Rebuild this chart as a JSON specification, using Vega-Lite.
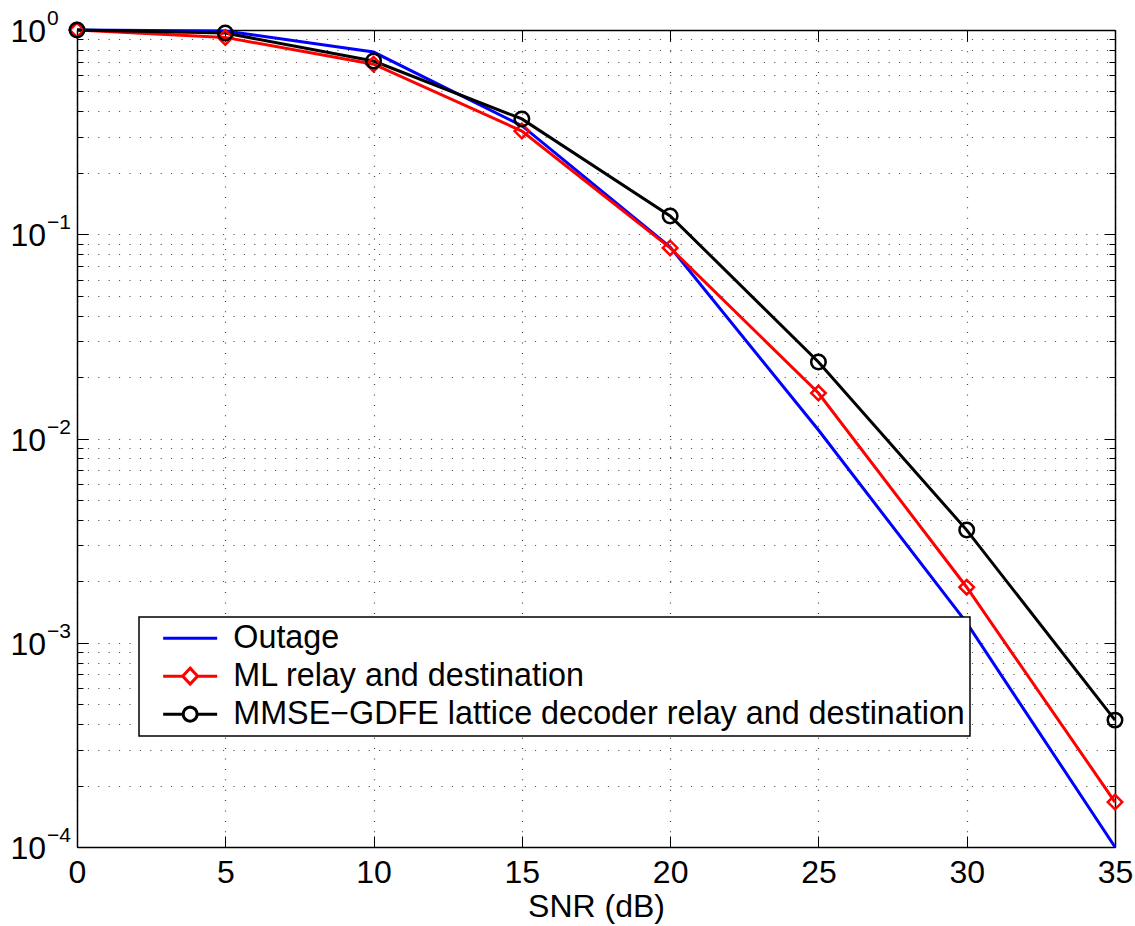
{
  "$schema": "https://vega.github.io/schema/vega-lite/v6.json",
  "width": 1038,
  "height": 817,
  "autosize": {"type": "none"},
  "padding": {"left": 77, "top": 30, "right": 20, "bottom": 79},
  "background": "white",
  "config": {
    "view": {"stroke": null},
    "font": "Liberation Sans",
    "axis": {"labelFont": "Liberation Sans", "titleFont": "Liberation Sans", "domainColor": "black", "tickColor": "black", "labelColor": "black", "titleColor": "black"}
  },
  "datasets": {
    "curves": [
      {"snr": 0, "ber": 1.0, "series": "Outage"},
      {"snr": 5, "ber": 0.99, "series": "Outage"},
      {"snr": 10, "ber": 0.78, "series": "Outage"},
      {"snr": 15, "ber": 0.34, "series": "Outage"},
      {"snr": 20, "ber": 0.0866, "series": "Outage"},
      {"snr": 25, "ber": 0.011, "series": "Outage"},
      {"snr": 30, "ber": 0.00125, "series": "Outage"},
      {"snr": 35, "ber": 0.0001, "series": "Outage"},
      {"snr": 0, "ber": 1.0, "series": "ML relay and destination"},
      {"snr": 5, "ber": 0.92, "series": "ML relay and destination"},
      {"snr": 10, "ber": 0.68, "series": "ML relay and destination"},
      {"snr": 15, "ber": 0.32, "series": "ML relay and destination"},
      {"snr": 20, "ber": 0.0857, "series": "ML relay and destination"},
      {"snr": 25, "ber": 0.0167, "series": "ML relay and destination"},
      {"snr": 30, "ber": 0.00187, "series": "ML relay and destination"},
      {"snr": 35, "ber": 0.000166, "series": "ML relay and destination"},
      {"snr": 0, "ber": 1.0, "series": "MMSE−GDFE lattice decoder relay and destination"},
      {"snr": 5, "ber": 0.966, "series": "MMSE−GDFE lattice decoder relay and destination"},
      {"snr": 10, "ber": 0.705, "series": "MMSE−GDFE lattice decoder relay and destination"},
      {"snr": 15, "ber": 0.367, "series": "MMSE−GDFE lattice decoder relay and destination"},
      {"snr": 20, "ber": 0.123, "series": "MMSE−GDFE lattice decoder relay and destination"},
      {"snr": 25, "ber": 0.0237, "series": "MMSE−GDFE lattice decoder relay and destination"},
      {"snr": 30, "ber": 0.00356, "series": "MMSE−GDFE lattice decoder relay and destination"},
      {"snr": 35, "ber": 0.000418, "series": "MMSE−GDFE lattice decoder relay and destination"}
    ],
    "decades": [
      {"v": 1, "e": "0"},
      {"v": 0.1, "e": "−1"},
      {"v": 0.01, "e": "−2"},
      {"v": 0.001, "e": "−3"},
      {"v": 0.0001, "e": "−4"}
    ]
  },
  "resolve": {"axis": {"x": "independent", "y": "independent"}},
  "layer": [
    {
      "data": {"name": "curves"},
      "mark": {"type": "line", "strokeWidth": 3, "clip": false},
      "encoding": {
        "x": {
          "field": "snr", "type": "quantitative",
          "scale": {"domain": [0, 35], "nice": false, "zero": false},
          "axis": {
            "orient": "bottom", "values": [0, 5, 10, 15, 20, 25, 30, 35],
            "title": "SNR (dB)", "titleFontSize": 32, "titleFontWeight": "normal", "titlePadding": 3,
            "labelFontSize": 32, "labelPadding": 21, "tickSize": -11, "tickWidth": 1,
            "domainWidth": 1.5, "labelFlush": false,
            "grid": true, "gridDash": [1, 9.4], "gridColor": "black", "gridOpacity": 0.75, "gridWidth": 1.2
          }
        },
        "y": {
          "field": "ber", "type": "quantitative",
          "scale": {"type": "log", "domain": [0.0001, 1], "nice": false},
          "axis": {
            "orient": "left", "title": null, "labels": false,
            "values": [0.0001, 0.0002, 0.0003, 0.0004, 0.0005, 0.0006, 0.0007, 0.0008, 0.0009, 0.001, 0.002, 0.003, 0.004, 0.005, 0.006, 0.007, 0.008, 0.009, 0.01, 0.02, 0.03, 0.04, 0.05, 0.06, 0.07, 0.08, 0.09, 0.1, 0.2, 0.3, 0.4, 0.5, 0.6, 0.7, 0.8, 0.9, 1],
            "tickSize": {"condition": {"test": "abs(log(datum.value)/log(10) - round(log(datum.value)/log(10))) < 0.001", "value": -11}, "value": -6},
            "tickWidth": 1, "domainWidth": 1.5,
            "grid": true, "gridDash": [1, 9.4], "gridColor": "black", "gridOpacity": 0.75, "gridWidth": 1.2
          }
        },
        "color": {
          "field": "series", "type": "nominal",
          "scale": {"domain": ["Outage", "ML relay and destination", "MMSE−GDFE lattice decoder relay and destination"], "range": ["#0000ff", "#ff0000", "#000000"]},
          "legend": {
            "orient": "none", "legendX": 62, "legendY": 587,
            "title": null, "labelFontSize": 32.3, "labelFont": "Liberation Sans", "labelColor": "black",
            "symbolSize": 400, "symbolStrokeWidth": 3, "symbolOffset": 30, "labelOffset": 27,
            "rowPadding": 5, "padding": 5, "strokeColor": "black", "fillColor": "white",
            "labelLimit": 1000,
            "encode": {
              "legend": {"update": {"strokeWidth": {"value": 1.5}}},
              "symbols": {
                "update": {
                  "fill": {"value": "transparent"},
                  "strokeWidth": {"value": 3},
                  "shape": {"signal": "datum.value === 'Outage' ? 'M-2.7,0L2.7,0' : datum.value === 'ML relay and destination' ? 'M-2.7,0L-0.75,0M0.75,0L2.7,0M0,-0.8L0.75,0L0,0.8L-0.75,0Z' : 'M-2.7,0L-0.7,0M0.7,0L2.7,0M0.7,0L0.647,0.268L0.495,0.495L0.268,0.647L0,0.7L-0.268,0.647L-0.495,0.495L-0.647,0.268L-0.7,0L-0.647,-0.268L-0.495,-0.495L-0.268,-0.647L0,-0.7L0.268,-0.647L0.495,-0.495L0.647,-0.268Z'"}
                }
              }
            }
          }
        }
      }
    },
    {
      "data": {"name": "curves"},
      "transform": [{"filter": "datum.series !== 'Outage'"}],
      "mark": {"type": "point", "filled": false, "strokeWidth": 2.5, "opacity": 1, "clip": false},
      "encoding": {
        "x": {
          "field": "snr", "type": "quantitative",
          "axis": {"orient": "top", "values": [0, 5, 10, 15, 20, 25, 30, 35], "labels": false, "title": null, "tickSize": -11, "tickWidth": 1, "domainWidth": 1.5, "grid": false}
        },
        "y": {
          "field": "ber", "type": "quantitative",
          "axis": {
            "orient": "right", "labels": false, "title": null, "grid": false,
            "values": [0.0001, 0.0002, 0.0003, 0.0004, 0.0005, 0.0006, 0.0007, 0.0008, 0.0009, 0.001, 0.002, 0.003, 0.004, 0.005, 0.006, 0.007, 0.008, 0.009, 0.01, 0.02, 0.03, 0.04, 0.05, 0.06, 0.07, 0.08, 0.09, 0.1, 0.2, 0.3, 0.4, 0.5, 0.6, 0.7, 0.8, 0.9, 1],
            "tickSize": {"condition": {"test": "abs(log(datum.value)/log(10) - round(log(datum.value)/log(10))) < 0.001", "value": -11}, "value": -6},
            "tickWidth": 1, "domainWidth": 1.5
          }
        },
        "color": {"field": "series", "type": "nominal", "legend": null},
        "shape": {
          "field": "series", "type": "nominal",
          "scale": {"domain": ["ML relay and destination", "MMSE−GDFE lattice decoder relay and destination"], "range": ["diamond", "circle"]},
          "legend": null
        },
        "size": {"value": 210}
      }
    },
    {
      "data": {"name": "decades"},
      "mark": {"type": "text", "align": "right", "baseline": "alphabetic", "dx": -31, "dy": 12, "fontSize": 32, "font": "Liberation Sans", "color": "black", "clip": false},
      "encoding": {
        "x": {"datum": 0, "type": "quantitative", "axis": null},
        "y": {"field": "v", "type": "quantitative", "axis": null},
        "text": {"value": "10"}
      }
    },
    {
      "data": {"name": "decades"},
      "mark": {"type": "text", "align": "left", "baseline": "alphabetic", "dx": -30, "dy": -5, "fontSize": 21, "font": "Liberation Sans", "color": "black", "clip": false},
      "encoding": {
        "x": {"datum": 0, "type": "quantitative", "axis": null},
        "y": {"field": "v", "type": "quantitative", "axis": null},
        "text": {"field": "e", "type": "nominal"}
      }
    }
  ]
}
